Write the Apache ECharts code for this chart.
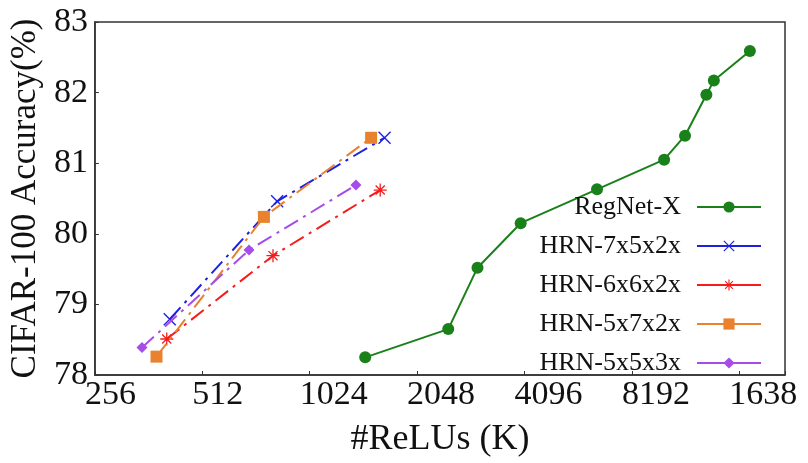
<!DOCTYPE html>
<html>
<head>
<meta charset="utf-8">
<script src="https://cdn.jsdelivr.net/npm/echarts@6/dist/echarts.min.js"></script>
<style>html,body{margin:0;padding:0;background:#fff}#c{width:808px;height:463px}</style>
</head>
<body>
<div id="c"></div>
<script>
// ---- data ----
const regnetX   = [1465, 2504, 3024, 3995, 6540, 10085, 11540, 13245, 13900, 17540];
const regnetY   = [78.25, 78.65, 79.52, 80.15, 80.63, 81.05, 81.39, 81.97, 82.17, 82.59];
const hrn752X   = [415, 830, 1660];
const hrn752Y   = [78.79, 80.46, 81.36];
const hrn662X   = [407, 808, 1614];
const hrn662Y   = [78.51, 79.69, 80.62];
const hrn572X   = [381, 762, 1522];
const hrn572Y   = [78.26, 80.24, 81.36];
const hrn553X   = [347, 692, 1380];
const hrn553Y   = [78.39, 79.77, 80.69];
const seriesNames = ['RegNet-X', 'HRN-7x5x2x', 'HRN-6x6x2x', 'HRN-5x7x2x', 'HRN-5x5x3x'];
const xTickValues = [256, 512, 1024, 2048, 4096, 8192, 16384];
const xTickLabels = ['256', '512', '1024', '2048', '4096', '8192', '1638'];
const yTickLabels = ['78', '79', '80', '81', '82', '83'];

const FONT = "'Liberation Serif', 'Times New Roman', 'DejaVu Serif', serif";
const pairs = (xs, ys) => xs.map((x, i) => [x, ys[i]]);
const X_PATH = 'path://M0,1.5L1.5,0L20,18.5L18.5,20ZM18.5,0L20,1.5L1.5,20L0,18.5Z';
const STAR_PATH = 'path://M9,0L11,0L11,20L9,20ZM0,9L20,9L20,11L0,11ZM3.7,2.3L17.7,16.3L16.3,17.7L2.3,3.7ZM17.7,3.7L3.7,17.7L2.3,16.3L16.3,2.3Z';
const dashDot = [16, 6, 3, 6];

function mk(name, data, color, symbol, size, dash, z) {
  return {
    name, type: 'line', data, symbol, symbolSize: size, z,
    lineStyle: { color, width: 2, type: dash },
    itemStyle: { color },
    emphasis: { disabled: true },
    animation: false
  };
}

const chart = echarts.init(document.getElementById('c'), null, { renderer: 'canvas' });
chart.setOption({
  animation: false,
  textStyle: { fontFamily: FONT },
  grid: { left: 92, right: 23, top: 22, bottom: 79, show: true, borderColor: '#333', borderWidth: 1.5, backgroundColor: 'transparent' },
  xAxis: {
    type: 'log', logBase: 2, min: 256, max: 22000,
    name: '#ReLUs (K)', nameLocation: 'middle', nameGap: 47,
    nameTextStyle: { fontFamily: FONT, fontSize: 36, color: '#111' },
    axisLine: { show: true, lineStyle: { color: '#333', width: 1.5 } },
    axisTick: { show: true, inside: true, length: 4, lineStyle: { color: '#333' } },
    splitLine: { show: false },
    minorTick: { show: false },
    axisLabel: {
      fontFamily: FONT, fontSize: 34, color: '#111', margin: 3, align: 'left', padding: [0, 0, 0, -10],
      showMinLabel: true, showMaxLabel: true, hideOverlap: false,
      formatter: function (v) {
        for (let i = 0; i < xTickValues.length; i++) {
          if (Math.abs(v - xTickValues[i]) < 1e-6 * xTickValues[i]) return xTickLabels[i];
        }
        return '';
      }
    }
  },
  yAxis: {
    type: 'value', min: 78, max: 83, interval: 1,
    name: 'CIFAR-100 Accuracy(%)', nameLocation: 'middle', nameGap: 46,
    nameTextStyle: { fontFamily: FONT, fontSize: 35, color: '#111' },
    axisLine: { show: true, lineStyle: { color: '#333', width: 1.5 } },
    axisTick: { show: true, inside: true, length: 4, lineStyle: { color: '#333' } },
    splitLine: { show: false },
    axisLabel: {
      fontFamily: FONT, fontSize: 34, color: '#111', margin: 7,
      showMinLabel: true, showMaxLabel: true,
      formatter: function (v) { const i = Math.round(v - 78); return yTickLabels[i] !== undefined ? yTickLabels[i] : ''; }
    }
  },
  legend: {
    orient: 'vertical', right: 46, top: 194, align: 'right', padding: 0,
    itemWidth: 64, itemHeight: 14, itemGap: 13,
    data: seriesNames,
    textStyle: { fontFamily: FONT, fontSize: 26, color: '#111', lineHeight: 26, padding: [0, 11, 0, 0] },
    lineStyle: { type: 'solid', width: 2 },
    selectedMode: false
  },
  series: [
    mk(seriesNames[0], pairs(regnetX, regnetY), '#1a801a', 'circle', 12, 'solid', 2),
    mk(seriesNames[1], pairs(hrn752X, hrn752Y), '#2020e0', X_PATH, 13, dashDot, 3),
    mk(seriesNames[2], pairs(hrn662X, hrn662Y), '#f51c1c', STAR_PATH, 13, dashDot, 4),
    mk(seriesNames[3], pairs(hrn572X, hrn572Y), '#e8822e', 'rect', 12, dashDot, 5),
    mk(seriesNames[4], pairs(hrn553X, hrn553Y), '#a64ce8', 'diamond', 11, dashDot, 6)
  ]
});
</script>
</body>
</html>
